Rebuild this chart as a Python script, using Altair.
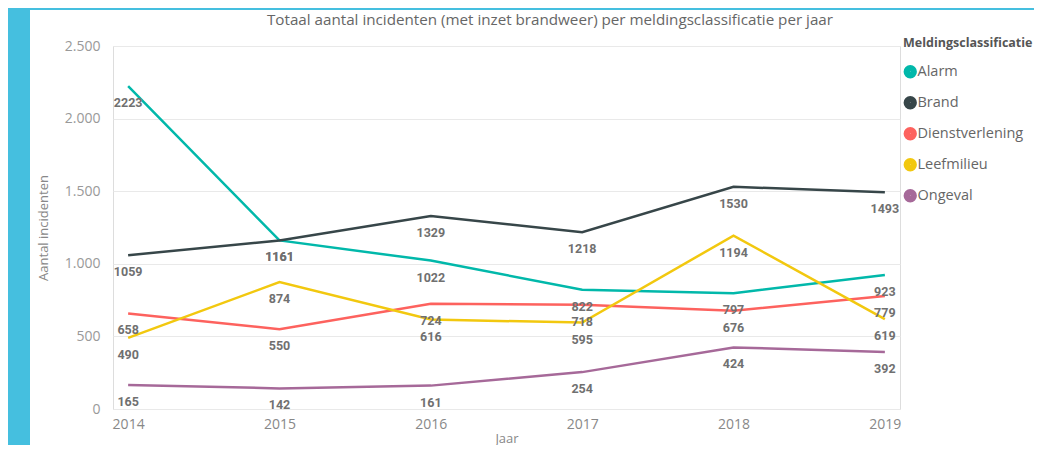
import altair as alt
import pandas as pd

years = [2014, 2015, 2016, 2017, 2018, 2019]
categories = ["Alarm", "Brand", "Dienstverlening", "Leefmilieu", "Ongeval"]
alarm = [2223, 1161, 1022, 822, 797, 923]
brand = [1059, 1161, 1329, 1218, 1530, 1493]
dienstverlening = [658, 550, 724, 718, 676, 779]
leefmilieu = [490, 874, 616, 595, 1194, 619]
ongeval = [165, 142, 161, 254, 424, 392]
colors = ["#01B8AA", "#374649", "#FD625E", "#F2C80F", "#A66999"]
y_ticks = [0, 500, 1000, 1500, 2000, 2500]
title_text = "Totaal aantal incidenten (met inzet brandweer) per meldingsclassificatie per jaar"

series = [alarm, brand, dienstverlening, leefmilieu, ongeval]
rows = []
for cat, vals in zip(categories, series):
    for yr, v in zip(years, vals):
        rows.append({"Jaar": yr, "Meldingsclassificatie": cat, "Aantal": v})
df = pd.DataFrame(rows)

FONT = "Open Sans"
W, H = 787, 363
PAD = {"left": 105, "top": 38, "right": 134, "bottom": 36}

x = alt.X("Jaar:O", scale=alt.Scale(type="point", padding=0.1),
          axis=alt.Axis(title="Jaar", labelAngle=0, grid=False, domain=False, ticks=False,
                        labelPadding=8, labelFontSize=14, labelColor="#888", labelFont=FONT,
                        titleFont=FONT, titleFontSize=13, titleColor="#888", titleFontWeight="normal",
                        titlePadding=1))
y = alt.Y("Aantal:Q", scale=alt.Scale(domain=[0, 2500], nice=False),
          axis=alt.Axis(title="Aantal incidenten", values=y_ticks,
                        labelExpr="replace(format(datum.value, ','), ',', '.')",
                        grid=True, gridColor="#e9e9e9", domain=False, ticks=False,
                        labelPadding=13, labelFontSize=14, labelColor="#999", labelFont=FONT,
                        titleFont=FONT, titleFontSize=13, titleColor="#888", titleFontWeight="normal",
                        titlePadding=14))

color = alt.Color("Meldingsclassificatie:N",
                  scale=alt.Scale(domain=categories, range=colors),
                  legend=alt.Legend(orient="none", legendX=790, legendY=-9,
                                    title="Meldingsclassificatie", titleFont=FONT, titleFontSize=12.5,
                                    titleFontWeight="bold", titleColor="#555", titlePadding=15,
                                    labelFont=FONT, labelFontSize=14.5, labelColor="#666",
                                    symbolType="circle", symbolSize=40, symbolStrokeWidth=7,
                                    labelOffset=0, rowPadding=-4, padding=0))

base = alt.Chart(df)
lines = base.mark_line(strokeWidth=2.5).encode(x=x, y=y, color=color)
labels = base.mark_text(dy=17, font="Roboto", fontSize=12.5, fontWeight="bold", color="#707070").encode(
    x=x, y=y, text=alt.Text("Aantal:Q", format="d"), detail="Meldingsclassificatie:N")

one = pd.DataFrame({"t": [title_text]})
strip_left = alt.Chart(one).mark_rect(color="#45BFDF").encode(
    x=alt.value(-PAD["left"]), x2=alt.value(-83), y=alt.value(-PAD["top"]), y2=alt.value(H + PAD["bottom"]))
strip_top = alt.Chart(one).mark_rect(color="#45BFDF").encode(
    x=alt.value(-PAD["left"]), x2=alt.value(W + PAD["right"]), y=alt.value(-PAD["top"]), y2=alt.value(-36))
title = alt.Chart(one).mark_text(font=FONT, fontSize=15.2, color="#666", align="center", baseline="middle").encode(
    text="t:N", x=alt.value(437), y=alt.value(-26))

chart = alt.layer(strip_left, strip_top, title, lines, labels).properties(
    width=W, height=H,
    padding=PAD,
    autosize=alt.AutoSizeParams(type="none"),
).configure_view(stroke=None).configure(background="white")

chart.save("out.html", embed_options={"renderer": "svg", "actions": False})
